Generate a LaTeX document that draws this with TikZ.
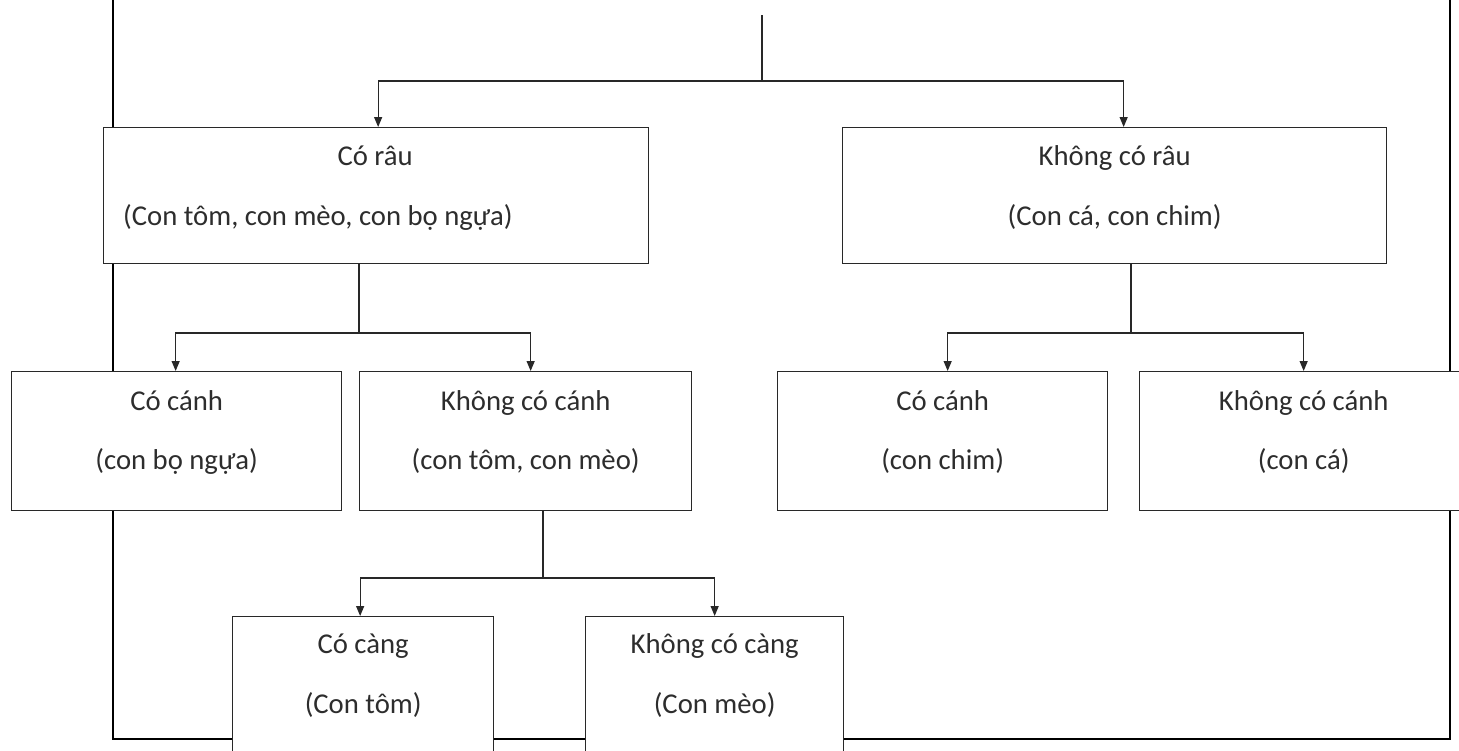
\documentclass[tikz,border=0pt]{standalone}
\usepackage{fontspec}
\setmainfont{Carlito}
\usetikzlibrary{arrows.meta,calc}
\definecolor{linec}{RGB}{40,40,40}
\definecolor{txtc}{RGB}{45,45,45}
\begin{document}
\begin{tikzpicture}[x=1pt,y=-1pt,
  box/.style={draw=linec, line width=1.3pt, fill=white, rectangle, inner sep=0pt, anchor=north west},
  lbl/.style={font=\fontsize{28.7}{30}\selectfont, text=txtc, inner sep=0pt, anchor=base},
  conn/.style={draw=linec, line width=1.3pt},
  arr/.style={conn, -{Triangle[length=10pt,width=8pt]}},
  framec/.style={draw=black, line width=2.2pt}]
\path[use as bounding box] (0,0) rectangle (1459,750);
\fill[white] (0,0) rectangle (1459,750);
\clip (0,0) rectangle (1459,750);
% outer frame (behind boxes)
\draw[framec] (113,-20) -- (113,739) -- (1450,739) -- (1450,-20);
% boxes
\node[box, minimum width=545pt, minimum height=136pt] (r1) at (103,127) {};
\node[box, minimum width=544pt, minimum height=136pt] (r2) at (842,127) {};
\node[box, minimum width=330pt, minimum height=139pt] (b1) at (11,371) {};
\node[box, minimum width=332pt, minimum height=139pt] (b2) at (359,371) {};
\node[box, minimum width=330pt, minimum height=139pt] (b3) at (777,371) {};
\node[box, minimum width=328pt, minimum height=139pt] (b4) at (1139,371) {};
\node[box, minimum width=261pt, minimum height=150pt] (c1) at (232,616) {};
\node[box, minimum width=258pt, minimum height=150pt] (c2) at (585,616) {};
% texts
\node[lbl] (r1a) at ($(r1.north)+(-1,38)$) {Có râu};
\node[lbl, anchor=base west] (r1b) at ($(r1.north west)+(20,98)$) {(Con tôm, con mèo, con bọ ngựa)};
\node[lbl] (r2a) at ($(r2.north)+(0,38)$) {Không có râu};
\node[lbl] (r2b) at ($(r2.north)+(0,98)$) {(Con cá, con chim)};
\node[lbl] (b1a) at ($(b1.north)+(0,39)$) {Có cánh};
\node[lbl] (b1b) at ($(b1.north)+(0,98)$) {(con bọ ngựa)};
\node[lbl] (b2a) at ($(b2.north)+(0,39)$) {Không có cánh};
\node[lbl] (b2b) at ($(b2.north)+(0,98)$) {(con tôm, con mèo)};
\node[lbl] (b3a) at ($(b3.north)+(0,39)$) {Có cánh};
\node[lbl] (b3b) at ($(b3.north)+(0,98)$) {(con chim)};
\node[lbl] (b4a) at ($(b4.north)+(0,39)$) {Không có cánh};
\node[lbl] (b4b) at ($(b4.north)+(0,98)$) {(con cá)};
\node[lbl] (c1a) at ($(c1.north)+(0,37)$) {Có càng};
\node[lbl] (c1b) at ($(c1.north)+(0,97)$) {(Con tôm)};
\node[lbl] (c2a) at ($(c2.north)+(0,37)$) {Không có càng};
\node[lbl] (c2b) at ($(c2.north)+(0,97)$) {(Con mèo)};
% connectors
\coordinate (top) at (762,15);
\coordinate (j0) at (762,81);
\draw[conn] (top) -- (j0);
\draw[arr] (j0) -| ($(r1.north)+(2,0)$);
\draw[arr] (j0) -| ($(r2.north)+(9,0)$);
\coordinate (j1) at (359,333);
\draw[conn] (j1 |- r1.south) -- (j1);
\draw[arr] (j1) -| ($(b1.north)+(-1,0)$);
\draw[arr] (j1) -| ($(b2.north)+(5,0)$);
\coordinate (j2) at (1131,333);
\draw[conn] (j2 |- r2.south) -- (j2);
\draw[arr] (j2) -| ($(b3.north)+(5,0)$);
\draw[arr] (j2) -| (b4.north);
\coordinate (j3) at (543,578);
\draw[conn] (j3 |- b2.south) -- (j3);
\draw[arr] (j3) -| ($(c1.north)+(-3,0)$);
\draw[arr] (j3) -| (c2.north);
\end{tikzpicture}
\end{document}
